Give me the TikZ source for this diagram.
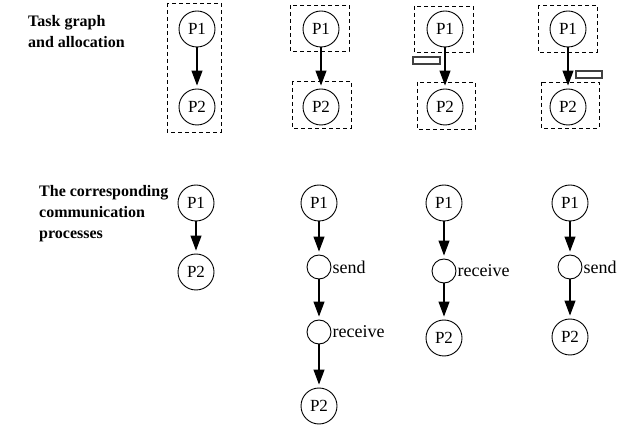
\documentclass[tikz,border=0pt]{standalone}
\usepackage{fontspec}
\setmainfont{Liberation Serif}
\usetikzlibrary{arrows.meta}
\begin{document}
\begin{tikzpicture}[x=1pt,y=-1pt,
  proc/.style={circle,draw,line width=0.9pt,minimum size=36pt,inner sep=0pt,
    font=\fontsize{17}{17}\selectfont},
  comm/.style={circle,draw,line width=0.9pt,minimum size=24pt,inner sep=0pt},
  commlabel/.style={anchor=west,inner sep=1pt,font=\fontsize{18}{18}\selectfont},
  flow/.style={line width=1.1pt,-{Triangle[length=15pt,width=11pt]},shorten >=3pt},
  alloc/.style={draw,line width=0.9pt,dash pattern=on 4pt off 3pt},
  msgbuf/.style={draw=black!75,line width=1.1pt,fill=white},
  heading/.style={anchor=base west,inner sep=0pt,align=left,
    font=\bfseries\fontsize{16}{21}\selectfont}]
\useasboundingbox (0,0) rectangle (637,427);

% row headings (anchored at the baseline of their last line)
\node[heading] (h1) at (28,48) {Task graph\\and allocation};
\node[heading] (h2) at (39,239) {The corresponding\\communication\\processes};

% ---- task graphs with processor allocation ----
% both tasks on one processor
\draw[alloc] (167,3) rectangle (221,132);
\node[proc] (a1) at (197,29) {P1};
\node[proc] (a2) at (197,107) {P2};
\draw[flow] (a1) -- (a2);

% tasks on two processors
\draw[alloc] (290,5) rectangle (349,51);
\draw[alloc] (292,81) rectangle (351,128);
\node[proc] (b1) at (321,29) {P1};
\node[proc] (b2) at (321,107) {P2};
\draw[flow] (b1) -- (b2);

% buffer on the sending side
\draw[alloc] (414,6) rectangle (473,52);
\draw[alloc] (417,82) rectangle (475,129);
\node[proc] (c1) at (445,29) {P1};
\node[proc] (c2) at (445,107) {P2};
\draw[flow] (c1) -- (c2);
\draw[msgbuf] (413,57) rectangle (440,64);

% buffer on the receiving side
\draw[alloc] (538,5) rectangle (597,52);
\draw[alloc] (541,82) rectangle (599,128);
\node[proc] (d1) at (568,29) {P1};
\node[proc] (d2) at (568,107) {P2};
\draw[flow] (d1) -- (d2);
\draw[msgbuf] (576,71) rectangle (602,78);

% ---- corresponding communication processes ----
\node[proc] (e1) at (196,203) {P1};
\node[proc] (e2) at (196,272) {P2};
\draw[flow] (e1) -- (e2);

\node[proc] (f1) at (319,203) {P1};
\node[comm] (fs) at (319,267) {};
\node[commlabel] (fsl) at (fs.east) {send};
\node[comm] (fr) at (319,332) {};
\node[commlabel] (frl) at (fr.east) {receive};
\node[proc] (f2) at (319,406) {P2};
\draw[flow] (f1) -- (fs);
\draw[flow] (fs) -- (fr);
\draw[flow] (fr) -- (f2);

\node[proc] (g1) at (444,203) {P1};
\node[comm] (gr) at (444,271) {};
\node[commlabel] (grl) at (gr.east) {receive};
\node[proc] (g2) at (444,338) {P2};
\draw[flow] (g1) -- (gr);
\draw[flow] (gr) -- (g2);

\node[proc] (k1) at (570,203) {P1};
\node[comm] (ks) at (570,267) {};
\node[commlabel] (ksl) at (ks.east) {send};
\node[proc] (k2) at (570,337) {P2};
\draw[flow] (k1) -- (ks);
\draw[flow] (ks) -- (k2);
\end{tikzpicture}
\end{document}
